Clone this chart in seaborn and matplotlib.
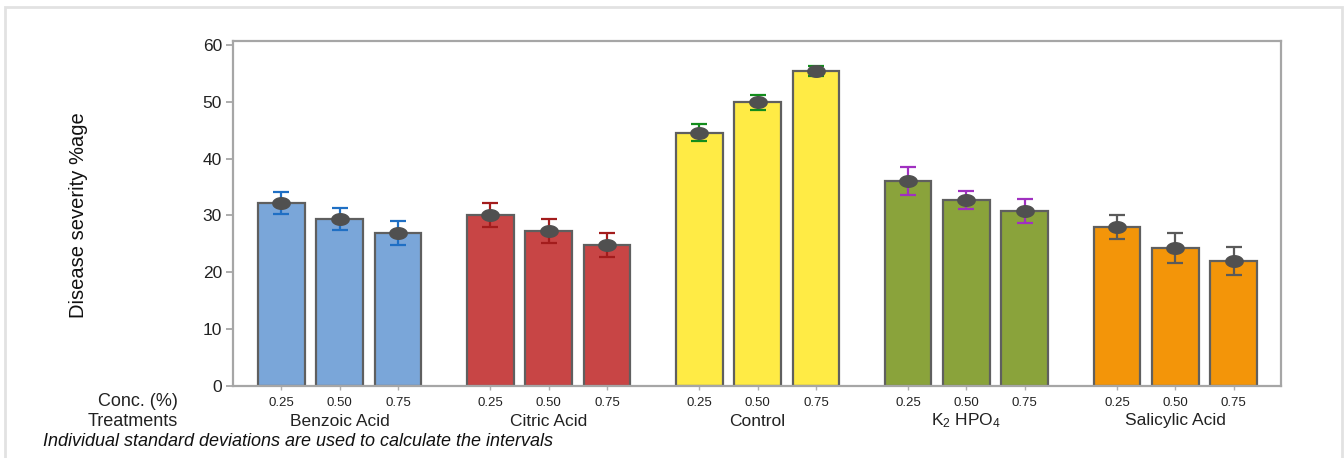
import numpy as np
import pandas as pd
import matplotlib
matplotlib.use("Agg")
import matplotlib.pyplot as plt
from matplotlib.patches import Rectangle
import matplotlib.transforms as mtransforms
import seaborn as sns

# ---- data: mean disease severity (%) and standard deviation per treatment ----
treatments = ["Benzoic Acid", "Citric Acid", "Control", "K2HPO4", "Salicylic Acid"]
treatment_labels = ["Benzoic Acid", "Citric Acid", "Control", r"K$_2$ HPO$_4$", "Salicylic Acid"]
concentrations = ["0.25", "0.50", "0.75"]

benzoic_mean = [32.2, 29.4, 26.9]
benzoic_sd = [2.0, 1.9, 2.1]
citric_mean = [30.1, 27.3, 24.8]
citric_sd = [2.1, 2.1, 2.1]
control_mean = [44.6, 49.9, 55.4]
control_sd = [1.5, 1.3, 0.9]
k2hpo4_mean = [36.1, 32.7, 30.8]
k2hpo4_sd = [2.5, 1.6, 2.1]
salicylic_mean = [28.0, 24.3, 22.0]
salicylic_sd = [2.1, 2.6, 2.5]

means = [benzoic_mean, citric_mean, control_mean, k2hpo4_mean, salicylic_mean]
sds = [benzoic_sd, citric_sd, control_sd, k2hpo4_sd, salicylic_sd]

bar_colors = ["#7aa6d9", "#c84545", "#ffeb45", "#8aa33b", "#f39509"]
err_colors = ["#1f6fc4", "#a31c1c", "#138c1c", "#a030c0", "#5a5a5a"]

# ---- layout of bars along the x axis ----
group_step = 3.58
rows = []
for g, t in enumerate(treatments):
    for c, conc in enumerate(concentrations):
        rows.append({"treatment": t, "conc": conc, "pos": g * group_step + c,
                     "mean": means[g][c], "sd": sds[g][c]})
df = pd.DataFrame(rows)

sns.set_style("white")
plt.rcParams["font.family"] = ["Liberation Sans", "DejaVu Sans"]
plt.rcParams["mathtext.fontset"] = "custom"
plt.rcParams["mathtext.rm"] = "Liberation Sans"
plt.rcParams["mathtext.it"] = "Liberation Sans:italic"

W, H = 1344, 458
fig = plt.figure(figsize=(W / 100, H / 100), dpi=100)
ax = fig.add_axes([233 / W, 1 - 386 / H, (1281 - 233) / W, (386 - 41) / H])

sns.barplot(data=df, x="pos", y="mean", hue="treatment",
            palette=dict(zip(treatments, bar_colors)), native_scale=True,
            dodge=False, errorbar=None, width=0.8, saturation=1,
            edgecolor="#5f5f5f", linewidth=1.6, legend=False, ax=ax, zorder=2)

# error bars (individual standard deviations) and mean markers
t = np.linspace(0, 2 * np.pi, 40)
ellipse = np.column_stack([1.5 * np.cos(t), np.sin(t)])
for g, t_name in enumerate(treatments):
    sub = df[df["treatment"] == t_name]
    ax.errorbar(sub["pos"], sub["mean"], yerr=sub["sd"], fmt="none",
                ecolor=err_colors[g], elinewidth=1.6, capsize=6, capthick=1.6,
                zorder=3)
    ax.plot(sub["pos"], sub["mean"], ls="none", marker=ellipse, ms=12.5,
            color="#505050", mec="#505050", zorder=4)

ax.set_xlim(-0.83, 4 * group_step + 2 + 0.81)
ax.set_ylim(0, 60.7)
ax.set_yticks([0, 10, 20, 30, 40, 50, 60])
ax.set_xticks(df["pos"])
ax.set_xticklabels(df["conc"], fontsize=9.5, color="#222222")
ax.set_xlabel("")
ax.set_ylabel("")
ax.tick_params(axis="y", labelsize=12.5, length=5, width=1.2, color="#a0a0a0",
               labelcolor="#222222", left=True, pad=3)
ax.tick_params(axis="x", length=3, width=1, color="#b0b0b0", bottom=True, pad=5)
for s in ax.spines.values():
    s.set_color("#a6a6a6")
    s.set_linewidth(1.6)

# treatment group labels under the concentration labels
trans = mtransforms.blended_transform_factory(ax.transData, ax.transAxes)
y_treat = (386 - 421) / (386 - 41)
for g, lab in enumerate(treatment_labels):
    ax.text(g * group_step + 1, y_treat, lab, transform=trans, ha="center",
            va="center", fontsize=12.5, color="#222222")

fig.text(178 / W, 1 - 401 / H, "Conc. (%)", ha="right", va="center",
         fontsize=13, color="#222222")
fig.text(178 / W, 1 - 421 / H, "Treatments", ha="right", va="center",
         fontsize=13, color="#222222")
fig.text(78 / W, 1 - 215 / H, "Disease severity %age", rotation=90,
         ha="center", va="center", fontsize=14.5, color="#111111")
fig.text(43 / W, 1 - 441 / H,
         "Individual standard deviations are used to calculate the intervals",
         ha="left", va="center", fontsize=13, style="italic", color="#111111")

# light outer frame
fig.patches.append(Rectangle((5 / W, -0.1), (1342 - 5) / W, (H - 7) / H + 0.1,
                             transform=fig.transFigure, fill=False,
                             ec="#e2e2e2", lw=2))

fig.savefig("out.png", dpi=100)
